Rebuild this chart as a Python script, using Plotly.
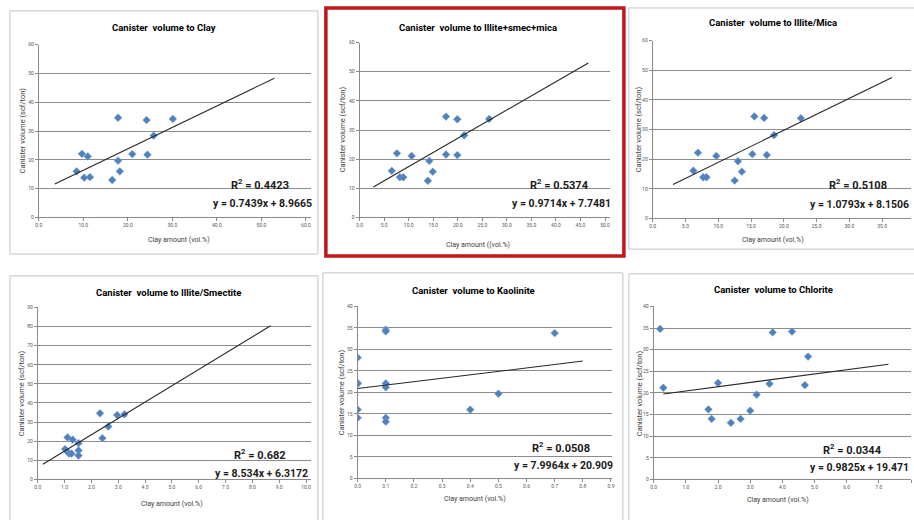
import plotly.graph_objects as go

W, H = 914, 520

# ---------------- data ----------------
titles = ["Canister  volume to Clay", "Canister  volume to Illite+smec+mica",
          "Canister  volume to Illite/Mica", "Canister  volume to Illite/Smectite",
          "Canister  volume to Kaolinite", "Canister  volume to Chlorite"]
x_titles = ["Clay amount (vol.%)", "Clay amount ((vol.%)", "Clay amount (vol.%)",
            "Clay amount (vol.%)", "Clay amount (vol.%)", "Clay amount (vol.%)"]
y_title = "Canister volume (scf/ton)"

clay_x = [8.5, 9.7, 10.2, 11.0, 11.5, 16.5, 17.8, 17.8, 18.2, 21.0, 24.2, 24.4, 25.8, 30.1]
clay_y = [16.0, 22.1, 13.8, 21.2, 14.0, 13.0, 34.6, 19.7, 16.0, 22.0, 33.8, 21.8, 28.4, 34.2]

ism_x = [6.55, 7.6, 8.2, 8.9, 10.6, 13.9, 14.2, 14.9, 17.6, 17.6, 19.9, 19.9, 21.3, 26.4]
ism_y = [16.0, 22.0, 13.8, 13.8, 21.1, 12.6, 19.4, 15.7, 34.6, 21.6, 33.7, 21.4, 28.2, 33.8]

im_x = [6.2, 6.9, 7.7, 8.2, 9.7, 12.5, 13.0, 13.6, 15.2, 15.5, 17.0, 17.4, 18.5, 22.6]
im_y = [16.1, 22.2, 13.9, 13.9, 21.1, 12.8, 19.3, 15.8, 21.7, 34.4, 33.9, 21.4, 28.1, 33.8]

is_x = [1.02, 1.09, 1.11, 1.17, 1.26, 1.30, 1.52, 1.52, 1.52, 2.32, 2.41, 2.63, 2.96, 3.23]
is_y = [15.9, 14.7, 22.0, 13.5, 13.5, 20.8, 19.0, 15.2, 12.5, 34.6, 21.6, 27.7, 33.7, 34.1]

kao_x = [0.0, 0.0, 0.0, 0.0, 0.0, 0.1, 0.1, 0.1, 0.1, 0.1, 0.1, 0.4, 0.5, 0.7]
kao_y = [28.1, 22.2, 22.0, 16.0, 14.1, 34.6, 34.2, 22.1, 21.2, 14.1, 13.2, 16.0, 19.7, 33.8]

chl_x = [0.2, 0.3, 1.7, 1.8, 2.0, 2.4, 2.7, 3.0, 3.2, 3.6, 3.7, 4.3, 4.7, 4.8]
chl_y = [34.8, 21.2, 16.2, 14.0, 22.3, 13.1, 14.0, 15.9, 19.6, 22.1, 34.0, 34.2, 21.8, 28.4]

xs = [clay_x, ism_x, im_x, is_x, kao_x, chl_x]
ys = [clay_y, ism_y, im_y, is_y, kao_y, chl_y]

slopes = [0.7439, 0.9714, 1.0793, 8.534, 7.9964, 0.9825]
intercepts = [8.9665, 7.7481, 8.1506, 6.3172, 20.909, 19.471]
trend_x0 = [3.6, 2.8, 3.1, 0.19, 0.0, 0.3]
trend_x1 = [52.9, 46.6, 36.5, 8.68, 0.80, 7.3]
r2_text = ["0.4423", "0.5374", "0.5108", "0.682", "0.0508", "0.0344"]
eq_text = ["y = 0.7439x + 8.9665", "y = 0.9714x + 7.7481", "y = 1.0793x + 8.1506",
           "y = 8.534x + 6.3172", "y = 7.9964x + 20.909", "y = 0.9825x + 19.471"]

x_max = [60, 50, 40, 10, 0.9, 8]
x_dtick = [10, 5, 5, 1, 0.1, 1]
y_max = [60, 60, 60, 90, 40, 40]
y_dtick = [10, 10, 10, 10, 5, 5]

# ---------------- layout (pixels) ----------------
# left px (x=0), px of x_max, right end of plot, top px (y_max), bottom px (y=0)
pl = [
    dict(xl=36, xm=305, xr=310, yt=42, yb=217),
    dict(xl=359, xm=606, xr=611, yt=40, yb=217),
    dict(xl=654, xm=918, xr=914, yt=38, yb=218),
    dict(xl=35, xm=305, xr=310, yt=308, yb=482),
    dict(xl=357, xm=612, xr=613, yt=307, yb=481),
    dict(xl=655, xm=914, xr=914, yt=307, yb=482),
]
boxes = [(7, 8, 317, 254), (630, 5, 920, 249), (7, 276, 317, 525),
         (322, 273, 624, 525), (630, 274, 920, 525)]
red_box = (325, 5, 625, 256)

title_pos = [(162, 25), (478, 25), (775, 20), (167, 293), (474, 291), (776, 290)]
xt_pos = [(177, 240), (478, 245), (775, 240), (170, 507), (475, 502), (780, 503)]
yt_pos = [(20, 129), (342, 128), (640, 128), (19, 395), (341, 394), (641, 395)]
r2_pos = [(259, 184), (560, 184), (861, 184), (259, 457), (562, 450), (855, 452)]
eq_pos = [(261, 203), (562, 203), (862, 204), (260, 476), (564, 468), (862, 470)]

FONT = "Roboto, Liberation Sans, Arial, sans-serif"

def px_x(p):
    return p / W

def px_y(p):
    return 1 - p / H

fig = go.Figure()
annotations = []
shapes = []

for i in range(6):
    k = "" if i == 0 else str(i + 1)
    p = pl[i]
    fig.add_trace(go.Scatter(
        x=xs[i], y=ys[i], mode="markers",
        marker=dict(symbol="diamond", size=6, color="#4F81BD",
                    line=dict(width=0.5, color="#7FA3D3")),
        xaxis="x" + k, yaxis="y" + k, showlegend=False, hoverinfo="x+y"))
    tx = [trend_x0[i], trend_x1[i]]
    ty = [slopes[i] * v + intercepts[i] for v in tx]
    fig.add_trace(go.Scatter(
        x=tx, y=ty, mode="lines", line=dict(color="#262626", width=1.1),
        xaxis="x" + k, yaxis="y" + k, showlegend=False, hoverinfo="skip"))

    xr_max = x_max[i] * (p["xr"] - p["xl"]) / (p["xm"] - p["xl"])
    fig.layout["xaxis" + k] = dict(
        domain=[px_x(p["xl"]), px_x(p["xr"])], range=[0, xr_max],
        anchor="y" + k, tick0=0, dtick=x_dtick[i], tickformat=".1f",
        showgrid=False, zeroline=False, showline=True, linecolor="#8a8a8a",
        linewidth=1, ticks="outside", ticklen=3, tickcolor="#8a8a8a",
        tickfont=dict(size=5, color="#555555", family=FONT))
    fig.layout["yaxis" + k] = dict(
        domain=[px_y(p["yb"]), px_y(p["yt"])], range=[0, y_max[i]],
        anchor="x" + k, tick0=0, dtick=y_dtick[i], tickformat="d",
        showgrid=True, gridcolor="#8c8c8c", gridwidth=1, zeroline=False,
        showline=True, linecolor="#8a8a8a", linewidth=1,
        ticks="outside", ticklen=3, tickcolor="#8a8a8a",
        tickfont=dict(size=5, color="#555555", family=FONT))

    def ann(text, pos, size, bold=False, angle=0, color="#000000"):
        annotations.append(dict(
            text=("<b>%s</b>" % text) if bold else text,
            x=px_x(pos[0]), y=px_y(pos[1]), xref="paper", yref="paper",
            xanchor="center", yanchor="middle", showarrow=False, textangle=angle,
            font=dict(family=FONT, size=size, color=color)))

    ann(titles[i], title_pos[i], 9.5, bold=True)
    ann(x_titles[i], xt_pos[i], 7, color="#404040")
    ann(y_title, yt_pos[i], 7.5, angle=-90, color="#404040")
    ann("R<sup>2</sup> = " + r2_text[i], r2_pos[i], 11, bold=True, color="#1a1a1a")
    ann(eq_text[i], eq_pos[i], 10.5, bold=True, color="#1a1a1a")

for (x0, y0, x1, y1) in boxes:
    shapes.append(dict(type="rect", xref="paper", yref="paper",
                       x0=px_x(x0), x1=px_x(x1), y0=px_y(y1), y1=px_y(y0),
                       line=dict(color="#c4c4c4", width=1)))
x0, y0, x1, y1 = red_box
shapes.append(dict(type="rect", xref="paper", yref="paper",
                   x0=px_x(x0), x1=px_x(x1), y0=px_y(y1), y1=px_y(y0),
                   line=dict(color="#C3161C", width=3.5)))

fig.update_layout(width=W, height=H, margin=dict(l=0, r=0, t=0, b=0),
                  paper_bgcolor="white", plot_bgcolor="white",
                  annotations=annotations, shapes=shapes, showlegend=False)

fig.write_html("out.html", config={"displayModeBar": False},
               post_script="document.body.style.margin='0';document.body.style.padding='0';")
